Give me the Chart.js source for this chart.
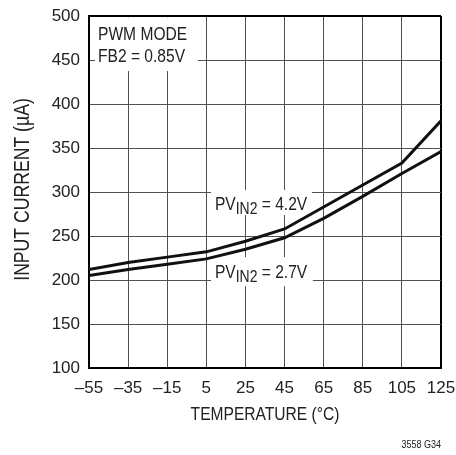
<!DOCTYPE html>
<html><head><meta charset="utf-8">
<script src="https://cdn.jsdelivr.net/npm/chart.js@4.4.1/dist/chart.umd.min.js"></script>
<style>html,body{margin:0;padding:0;background:#fff}#wrap{width:456px;height:455px}</style>
</head><body><div id="wrap"><canvas id="c" width="456" height="455"></canvas></div>
<script>
// ---- data ----
const temperatures = [-55, -35, -15, 5, 25, 45, 65, 85, 105, 125];
const currentPvin42 = [212, 220, 226, 232, 244, 258, 283, 308, 333, 381];
const currentPvin27 = [205, 212, 218, 224, 235, 248, 270, 295, 321, 346];
const xTickMin = -55, xTickMax = 125, xTickStep = 20;
const yTickMin = 100, yTickMax = 500, yTickStep = 50;
const xTitle = 'TEMPERATURE (°C)';
const yTitle = 'INPUT CURRENT (µA)';
const modeLines = ['PWM MODE', 'FB2 = 0.85V'];
const seriesLabels = [
  {main: 'PV', sub: 'IN2', rest: ' = 4.2V'},
  {main: 'PV', sub: 'IN2', rest: ' = 2.7V'}
];
const footnote = '3558 G34';

const FONT = "'Liberation Sans', Arial, sans-serif";
const NARROW = 0.82; // condensed look of the original typeface

// label boxes in data units (temperature, current)
const modeBox = {x0: -51.9, x1: 0.7, y0: 498.5, y1: 437.5, tx: -50.4, ty: [472.7, 447.7]};
const pvBoxes = [
  {x0: 7.4, x1: 59, y0: 302.3, y1: 273.9, tx: 9.4, ty: 279.5},
  {x0: 7.4, x1: 59.5, y0: 226, y1: 193, tx: 9.4, ty: 202}
];

function narrowText(ctx, text, x, y, size, align, rotate) {
  ctx.save();
  ctx.translate(x, y);
  if (rotate) ctx.rotate(-Math.PI / 2);
  ctx.scale(NARROW, 1);
  ctx.font = size + 'px ' + FONT;
  ctx.textAlign = align;
  ctx.textBaseline = 'alphabetic';
  ctx.fillText(text, 0, 0);
  const w = ctx.measureText(text).width * NARROW;
  ctx.restore();
  return w;
}

const annot = {
  id: 'annot',
  beforeDatasetsDraw(chart) {
    const {ctx, scales: {x, y}} = chart;
    ctx.save();
    ctx.fillStyle = '#fff';
    const rect = b => {
      const a = x.getPixelForValue(b.x0), c = x.getPixelForValue(b.x1);
      const t = y.getPixelForValue(b.y0), d = y.getPixelForValue(b.y1);
      ctx.fillRect(a, t, c - a, d - t);
    };
    rect(modeBox);
    pvBoxes.forEach(rect);
    ctx.fillStyle = '#222';
    modeLines.forEach((s, i) => narrowText(ctx, s, x.getPixelForValue(modeBox.tx), y.getPixelForValue(modeBox.ty[i]), 19, 'left'));
    pvBoxes.forEach((b, i) => {
      const L = seriesLabels[i];
      let px = x.getPixelForValue(b.tx);
      const py = y.getPixelForValue(b.ty);
      px += narrowText(ctx, L.main, px, py, 19, 'left');
      px += narrowText(ctx, L.sub, px, py + 4, 17, 'left');
      narrowText(ctx, L.rest, px, py, 19, 'left');
    });
    ctx.restore();
  },
  afterDraw(chart) {
    const {ctx, chartArea} = chart;
    ctx.save();
    ctx.fillStyle = '#222';
    // axis titles
    narrowText(ctx, xTitle, (chartArea.left + chartArea.right) / 2, 420, 19, 'center');
    narrowText(ctx, yTitle, 28.5, (chartArea.top + chartArea.bottom) / 2 - 2.5, 21.5, 'center', true);
    // footnote
    narrowText(ctx, footnote, chartArea.right, 448, 11, 'right');
    ctx.restore();
  }
};

const GRID = '#505050';
new Chart(document.getElementById('c'), {
  type: 'line',
  data: {
    datasets: [
      {label: 'PVIN2 = 4.2V', data: temperatures.map((t, i) => ({x: t, y: currentPvin42[i]})),
       borderColor: '#111', borderWidth: 3, pointRadius: 0, tension: 0, fill: false},
      {label: 'PVIN2 = 2.7V', data: temperatures.map((t, i) => ({x: t, y: currentPvin27[i]})),
       borderColor: '#111', borderWidth: 3, pointRadius: 0, tension: 0, fill: false}
    ]
  },
  options: {
    responsive: false, animation: false, devicePixelRatio: 1,
    layout: {padding: {left: 0, top: 16, right: 15, bottom: 0}},
    plugins: {legend: {display: false}, tooltip: {enabled: false}},
    scales: {
      x: {
        type: 'linear', min: xTickMin, max: xTickMax,
        afterFit: s => { s.height = 87; s.paddingLeft = 0; s.paddingRight = 0; },
        ticks: {stepSize: xTickStep, color: '#222', padding: 10,
          font: {family: FONT, size: 17},
          callback: v => String(v).replace('-', '\u2013')},
        grid: {drawTicks: false,
          color: c => c.tick && c.tick.value === xTickMax ? '#000' : GRID,
          lineWidth: c => c.tick && c.tick.value === xTickMax ? 2 : 1},
        border: {color: '#000', width: 2},
        title: {display: false, text: xTitle}
      },
      y: {
        min: yTickMin, max: yTickMax,
        afterFit: s => { s.width = 89; s.paddingTop = 0; s.paddingBottom = 0; },
        ticks: {stepSize: yTickStep, color: '#222', padding: 9,
          font: {family: FONT, size: 17}},
        grid: {drawTicks: false,
          color: c => c.tick && c.tick.value === yTickMax ? '#000' : GRID,
          lineWidth: c => c.tick && c.tick.value === yTickMax ? 2 : 1},
        border: {color: '#000', width: 2},
        title: {display: false, text: yTitle}
      }
    }
  },
  plugins: [annot]
});
</script></body></html>
